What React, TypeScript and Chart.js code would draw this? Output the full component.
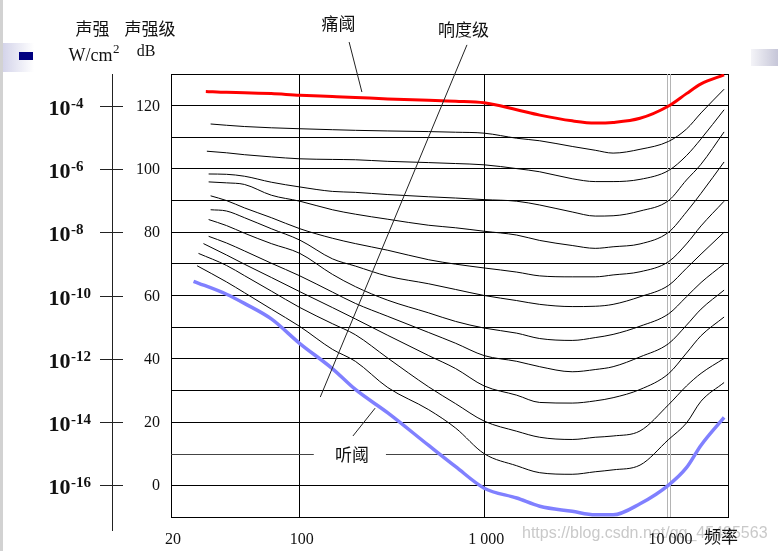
import React, { useEffect, useRef } from 'react';
import { Chart, registerables } from 'chart.js';

Chart.register(...registerables);

// ---- data (frequency in Hz, sound level in dB) ----
const FREQS = [40, 50, 70, 100, 150, 200, 300, 500, 700, 1000, 1500, 2000, 3000, 4000, 5000, 7000, 10000, 12500, 15000, 20000];
// first (left-most) frequency of each contour, phon 0 .. 120
const START_FREQS = [26.5, 27.7, 28.2, 30, 32, 32, 32.8, 32.8, 32, 32, 31.3, 32.8, 30.9];
const PHON_LEVELS = [0, 10, 20, 30, 40, 50, 60, 70, 80, 90, 100, 110, 120];

// each array: [level at start freq, then level at each of FREQS]
const phon0 = [64.5, 60.4, 57.5, 52.6, 44.8, 36.9, 30.3, 22.9, 12.6, 5.9, -0.9, -4, -6.6, -8.2, -9.3, -9.3, -5.8, 0.1, 5.6, 12.7, 21.5];
const phon10 = [69.4, 64.3, 60.9, 55.7, 50.2, 43, 39.2, 30.9, 23.9, 18.1, 10, 6.2, 4, 3.5, 4.3, 4.9, 6.4, 14.5, 19.7, 26.6, 32.5];
const phon20 = [73.3, 69.5, 66.3, 61.4, 56.2, 51.1, 47.6, 40.2, 31.1, 25.8, 20.3, 17.1, 15.2, 14.5, 15.2, 15.6, 17.2, 25.5, 31.4, 35.4, 40.1];
const phon30 = [76.4, 72.8, 69.9, 65.7, 61.2, 56.2, 52.6, 47.4, 41, 36.9, 31.4, 28.5, 26.2, 26, 26.7, 27.7, 30.3, 35.3, 41.8, 47.3, 53.2];
const phon40 = [78.7, 76.6, 74.1, 70.2, 66.2, 61.1, 57.5, 53.4, 48.3, 44.9, 41, 39.2, 37.5, 35.9, 36.6, 37.5, 40.6, 44.8, 50.6, 55.7, 61.7];
const phon50 = [84, 82.1, 79.7, 76.4, 73.3, 66.7, 62.8, 58.5, 54.5, 51.8, 49.7, 48.1, 46.4, 45.8, 46.7, 47.7, 50.3, 54.2, 59.6, 64.1, 70];
const phon60 = [87.1, 86.7, 84.6, 81.1, 77.5, 71.6, 69.3, 66.1, 63.7, 61.9, 60, 58.4, 57.2, 56.5, 56.6, 57.2, 59.6, 63.2, 68.6, 73.1, 80];
const phon70 = [91.5, 90, 87.7, 84.6, 81.1, 78.1, 76.4, 74.3, 71.3, 69.9, 68.7, 67.4, 66.2, 65.9, 65.9, 66.5, 67.5, 70.7, 76.3, 82, 89.8];
const phon80 = [95.9, 95.6, 95.1, 91.7, 89.8, 87.1, 85.7, 84.1, 82.2, 81.4, 80.3, 79.1, 77.4, 75.8, 74.9, 75.4, 76.3, 80, 86.4, 92.3, 102.2];
const phon90 = [98.4, 98.3, 97.7, 95.8, 94.3, 92.9, 92.6, 91.9, 91.2, 90.8, 90.3, 89.8, 88.6, 86.4, 85.1, 85.2, 86.7, 90, 96.5, 101.5, 111.7];
const phon100 = [105.6, 105.1, 104.5, 103.8, 103.2, 103, 102.9, 102.4, 102, 101.7, 101.3, 100.1, 99.1, 96.9, 96, 96, 96.7, 99.5, 104.2, 109.5, 118.7];
const phon110 = [114.2, 113.8, 113.4, 113, 112.7, 112.4, 112.2, 112, 111.8, 111.6, 111.3, 109.7, 108.9, 107.1, 105.9, 105, 106.2, 108.7, 112.6, 117.7, 125.2];
const phon120 = [124.5, 124.2, 124.1, 123.8, 123.3, 122.9, 122.6, 122.1, 121.7, 121.4, 120.9, 118.7, 117, 115.2, 114.5, 114.7, 116, 119.9, 123.8, 126.9, 129.7];

const CONTOURS = [phon0, phon10, phon20, phon30, phon40, phon50, phon60, phon70, phon80, phon90, phon100, phon110, phon120];

// axes
const X_MIN = 20;
const X_MAX = 21000;
const X_GRID = [20, 100, 1000, 10000, 21000];
const X_LABEL_VALUES = [20, 100, 1000, 10000];
const X_LABELS = ['20', '100', '1 000', '10 000'];
const Y_MIN = -10;
const Y_MAX = 130;
const DB_TICKS = [120, 100, 80, 60, 40, 20, 0];
const DB_LABELS = ['120', '100', '80', '60', '40', '20', '0'];
const INTENSITY_EXP = ['-4', '-6', '-8', '-10', '-12', '-14', '-16'];

// annotations (frequency, dB)
const PAIN_LABEL = { text: '痛阈', f: 162, db: 145.8 };
const PAIN_POINTER = [[185, 140.1], [217, 124.3]];
const LOUD_LABEL = { text: '响度级', f: 772, db: 144.2 };
const LOUD_POINTER = [[806, 139.2], [129, 27.9]];
const HEAR_LABEL = { text: '听阈', f: 192, db: 9.6 };
const HEAR_POINTER = [[194, 15.6], [256, 24.4]];
const TEN_DB_GAP = [119, 293];

const CJK = '"Noto Sans CJK SC", "Noto Sans", sans-serif';
const SERIF = '"Liberation Serif", "DejaVu Serif", serif';

function drawText(ctx: CanvasRenderingContext2D, s: string, x: number, y: number, font: string, align: CanvasTextAlign = 'center', baseline: CanvasTextBaseline = 'middle', color = '#111') {
  ctx.save();
  ctx.font = font;
  ctx.fillStyle = color;
  ctx.textAlign = align;
  ctx.textBaseline = baseline;
  ctx.fillText(s, x, y);
  ctx.restore();
}

function drawLine(ctx: CanvasRenderingContext2D, x1: number, y1: number, x2: number, y2: number, color = '#111', w = 1) {
  ctx.save();
  ctx.strokeStyle = color;
  ctx.lineWidth = w;
  ctx.beginPath();
  ctx.moveTo(x1, y1);
  ctx.lineTo(x2, y2);
  ctx.stroke();
  ctx.restore();
}

const decorPlugin = {
  id: 'decor',
  beforeDatasetsDraw(chart: any) {
    const { ctx, chartArea } = chart;
    const xs = chart.scales.x;
    const ys = chart.scales.y;
    // 10 dB grid line, interrupted by the 听阈 label
    const y10 = Math.round(ys.getPixelForValue(10)) + 0.5;
    drawLine(ctx, chartArea.left, y10, xs.getPixelForValue(TEN_DB_GAP[0]), y10, '#444', 1);
    drawLine(ctx, xs.getPixelForValue(TEN_DB_GAP[1]), y10, chartArea.right, y10, '#444', 1);
    // double light line at 10 000 Hz
    const x10k = Math.round(xs.getPixelForValue(10000));
    drawLine(ctx, x10k - 1.5, chartArea.top, x10k - 1.5, chartArea.bottom, '#b4b4b4', 1);
    drawLine(ctx, x10k + 1.5, chartArea.top, x10k + 1.5, chartArea.bottom, '#b4b4b4', 1);
  },
  afterDraw(chart: any) {
    const { ctx, chartArea } = chart;
    const xs = chart.scales.x;
    const ys = chart.scales.y;
    const px = (f: number) => xs.getPixelForValue(f);
    const py = (d: number) => ys.getPixelForValue(d);

    // watermark
    drawText(ctx, 'https://blog.csdn.net/qq_45495563', 522, 534, '16px "Liberation Sans", Arial, sans-serif', 'left', 'middle', 'rgba(195,195,195,0.9)');

    // left double axis
    const axX = 112.5;
    drawLine(ctx, axX, py(Y_MAX), axX, chartArea.bottom + 14, '#222', 1);
    DB_TICKS.forEach((v, i) => {
      const y = Math.round(py(v)) + 0.5;
      drawLine(ctx, 100, y, 123, y, '#222', 1);
      drawText(ctx, DB_LABELS[i], 160, y, '16px ' + SERIF, 'right', 'middle', '#111');
      ctx.save();
      ctx.font = 'bold 22px ' + SERIF;
      const w = ctx.measureText('10').width;
      ctx.restore();
      drawText(ctx, '10', 48.5, y + 8, 'bold 22px ' + SERIF, 'left', 'alphabetic', '#111');
      drawText(ctx, INTENSITY_EXP[i], 48.5 + w + 0.5, y + 1, 'bold 15px ' + SERIF, 'left', 'alphabetic', '#111');
    });

    // axis titles
    drawText(ctx, '声强', 92.5, 29, '17px ' + CJK);
    drawText(ctx, '声强级', 150, 29, '17px ' + CJK);
    ctx.save();
    ctx.font = '18px ' + SERIF;
    const wcm = ctx.measureText('W/cm').width;
    ctx.restore();
    drawText(ctx, 'W/cm', 68.5, 61, '18px ' + SERIF, 'left', 'alphabetic');
    drawText(ctx, '2', 68.5 + wcm + 0.5, 53, '13px ' + SERIF, 'left', 'alphabetic');
    drawText(ctx, 'dB', 146, 56, '16px ' + SERIF, 'center', 'alphabetic');

    // x labels
    X_LABEL_VALUES.forEach((v, i) => {
      drawText(ctx, X_LABELS[i], px(v) + 2, 540, '16px ' + SERIF, 'center', 'middle', '#111');
    });
    drawText(ctx, '频率', 721, 537, '17px ' + CJK);

    // annotations
    drawText(ctx, PAIN_LABEL.text, px(PAIN_LABEL.f), py(PAIN_LABEL.db), '17px ' + CJK);
    drawLine(ctx, px(PAIN_POINTER[0][0]), py(PAIN_POINTER[0][1]), px(PAIN_POINTER[1][0]), py(PAIN_POINTER[1][1]), '#222', 1);
    drawText(ctx, LOUD_LABEL.text, px(LOUD_LABEL.f), py(LOUD_LABEL.db), '17px ' + CJK);
    drawLine(ctx, px(LOUD_POINTER[0][0]), py(LOUD_POINTER[0][1]), px(LOUD_POINTER[1][0]), py(LOUD_POINTER[1][1]), '#222', 1);
    drawText(ctx, HEAR_LABEL.text, px(HEAR_LABEL.f), py(HEAR_LABEL.db), '17px ' + CJK);
    drawLine(ctx, px(HEAR_POINTER[0][0]), py(HEAR_POINTER[0][1]), px(HEAR_POINTER[1][0]), py(HEAR_POINTER[1][1]), '#222', 1);
  },
};

function buildDatasets() {
  return CONTOURS.map((levels, i) => {
    const phon = PHON_LEVELS[i];
    const data = [{ x: START_FREQS[i], y: levels[0] }].concat(FREQS.map((f, j) => ({ x: f, y: levels[j + 1] })));
    const isPain = phon === 120;
    const isHear = phon === 0;
    return {
      label: phon + ' phon',
      data,
      borderColor: isPain ? '#ff0000' : isHear ? 'rgb(128,128,255)' : '#000',
      borderWidth: isPain ? 3 : isHear ? 3.5 : 1,
      pointRadius: 0,
      cubicInterpolationMode: 'monotone' as const,
      fill: false,
      order: isPain || isHear ? 0 : 1,
    };
  });
}

export default function App() {
  const ref = useRef<HTMLCanvasElement>(null);
  useEffect(() => {
    if (!ref.current) return;
    const chart = new Chart(ref.current, {
      type: 'line',
      data: { datasets: buildDatasets() as any },
      options: {
        responsive: false,
        animation: false,
        events: [],
        layout: { padding: { left: 171, right: 50, top: 74, bottom: 34 } },
        plugins: { legend: { display: false }, tooltip: { enabled: false } },
        scales: {
          x: {
            type: 'logarithmic',
            min: X_MIN,
            max: X_MAX,
            afterBuildTicks: (scale: any) => {
              scale.ticks = X_GRID.map((v) => ({ value: v }));
            },
            ticks: { display: false },
            grid: {
              color: (c: any) => (c.tick && c.tick.value === 10000 ? 'rgba(0,0,0,0)' : '#000'),
              lineWidth: 1,
              drawTicks: false,
            },
            border: { display: true, color: '#000', width: 1 },
          },
          y: {
            type: 'linear',
            min: Y_MIN,
            max: Y_MAX,
            ticks: { display: false, stepSize: 10 },
            grid: {
              color: (c: any) => (c.tick && c.tick.value === 10 ? 'rgba(0,0,0,0)' : '#000'),
              lineWidth: 1,
              drawTicks: false,
            },
            border: { display: true, color: '#000', width: 1 },
          },
        },
      },
      plugins: [decorPlugin],
    });
    return () => chart.destroy();
  }, []);

  return (
    <div style={{ position: 'fixed', left: 0, top: 0, width: 778, height: 551, background: '#fff', overflow: 'hidden' }}>
      <canvas ref={ref} width={778} height={551} style={{ display: 'block', width: 778, height: 551 }} />
      <div style={{ position: 'absolute', left: 0, top: 0, width: 3, height: 551, background: '#d2d2d2' }} />
      <div style={{ position: 'absolute', left: 3, top: 43, width: 31, height: 29, background: 'linear-gradient(to right, #d4d4ea, #ffffff)' }} />
      <div style={{ position: 'absolute', left: 19, top: 52, width: 14, height: 8, background: '#000080' }} />
      <div style={{ position: 'absolute', left: 751, top: 49, width: 27, height: 17, background: 'linear-gradient(to right, #f4f4f8, #c6c6d8)' }} />
    </div>
  );
}
